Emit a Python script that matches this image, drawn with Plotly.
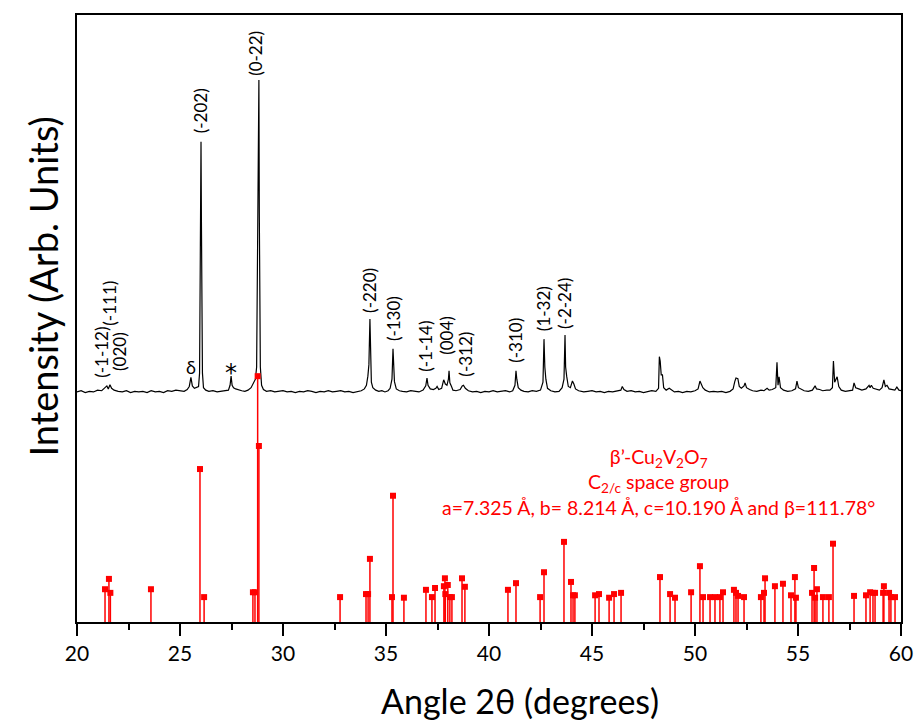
import plotly.graph_objects as go

# ---------------- data ----------------
# Experimental XRD pattern (2theta, intensity in arbitrary units, offset upward)
EXP_X = [20.0, 20.2, 20.4, 20.6, 20.8, 21.0, 21.2, 21.35, 21.45, 21.52, 21.6, 21.68, 21.8, 22.0, 22.2,
         22.4, 22.6, 22.8, 23.0, 23.2, 23.4, 23.6, 23.8, 24.0, 24.2, 24.4, 24.6, 24.8, 25.0, 25.2,
         25.35, 25.45, 25.53, 25.6, 25.7, 25.8, 25.90, 25.95, 25.98, 26.0, 26.02, 26.04, 26.06, 26.09,
         26.14, 26.25, 26.4, 26.6, 26.8, 27.0, 27.2, 27.35, 27.43, 27.48, 27.53, 27.6, 27.7, 27.85,
         28.0, 28.15, 28.3, 28.45, 28.58, 28.66, 28.72, 28.77, 28.80, 28.83, 28.85, 28.87, 28.90,
         28.96, 29.05, 29.2, 29.4, 29.6, 29.8, 30.0, 30.2, 30.4, 30.6, 30.8, 31.0, 31.2, 31.4, 31.6,
         31.8, 32.0, 32.2, 32.4, 32.6, 32.8, 33.0, 33.2, 33.4, 33.6, 33.8, 33.95, 34.05, 34.12, 34.17,
         34.22, 34.25, 34.29, 34.36, 34.5, 34.65, 34.8, 34.95, 35.1, 35.2, 35.29, 35.34, 35.37, 35.41,
         35.5, 35.65, 35.8, 36.0, 36.2, 36.4, 36.6, 36.8, 36.93, 36.99, 37.04, 37.15, 37.3, 37.42,
         37.48, 37.56, 37.7, 37.8, 37.88, 37.96, 38.03, 38.06, 38.1, 38.18, 38.25, 38.4, 38.6, 38.7,
         38.76, 38.85, 39.0, 39.2, 39.4, 39.6, 39.8, 40.0, 40.2, 40.4, 40.6, 40.8, 41.0, 41.15, 41.26,
         41.31, 41.35, 41.42, 41.55, 41.7, 41.9, 42.1, 42.3, 42.5, 42.62, 42.67, 42.71, 42.76, 42.84,
         43.0, 43.2, 43.4, 43.55, 43.64, 43.69, 43.72, 43.77, 43.85, 43.95, 44.05, 44.12, 44.2, 44.35,
         44.6, 44.8, 45.0, 45.2, 45.4, 45.6, 45.8, 46.0, 46.2, 46.4, 46.47, 46.55, 46.7, 46.9, 47.1,
         47.3, 47.5, 47.7, 47.9, 48.1, 48.23, 48.27, 48.31, 48.36, 48.42, 48.48, 48.6, 48.75, 48.85,
         49.0, 49.2, 49.4, 49.6, 49.8, 50.0, 50.15, 50.24, 50.3, 50.38, 50.5, 50.7, 50.9, 51.1, 51.3,
         51.5, 51.7, 51.85, 51.93, 51.99, 52.08, 52.15, 52.25, 52.38, 52.43, 52.5, 52.65, 52.8, 53.0,
         53.2, 53.35, 53.5, 53.6, 53.75, 53.92, 53.98, 54.03, 54.08, 54.15, 54.3, 54.5, 54.7, 54.88,
         54.95, 55.02, 55.15, 55.3, 55.5, 55.7, 55.83, 55.9, 56.05, 56.2, 56.4, 56.55, 56.67, 56.72,
         56.78, 56.9, 56.98, 57.1, 57.3, 57.5, 57.65, 57.72, 57.8, 57.95, 58.1, 58.3, 58.45, 58.5,
         58.56, 58.65, 58.8, 58.95, 59.08, 59.17, 59.24, 59.32, 59.42, 59.55, 59.7, 59.8, 59.9, 60.0]
EXP_Y = [37.9, 38.1, 37.8, 38.0, 37.9, 38.2, 38.1, 38.6, 38.9, 38.4, 39.1, 38.5, 38.2, 38.0, 37.9,
         38.1, 37.8, 38.0, 37.9, 38.0, 37.8, 38.1, 37.9, 38.0, 37.8, 38.1, 38.0, 38.2, 38.1, 38.0,
         38.3, 38.8, 40.3, 38.9, 38.5, 38.7, 38.8, 41.0, 55.0, 66.0, 79.1, 66.0, 55.0, 41.0,
         38.6, 38.2, 38.0, 38.1, 37.9, 38.0, 38.1, 38.2, 39.0, 40.5, 39.0, 38.6, 38.4, 38.2,
         38.1, 38.0, 38.2, 38.6, 39.6, 40.0, 42.0, 59.1, 67.4, 89.3, 67.4, 59.1, 42.0,
         39.0, 38.3, 38.0, 38.1, 37.9, 38.0, 38.1, 37.9, 38.0, 37.8, 38.0, 37.9, 38.1, 38.0, 37.8,
         38.0, 37.9, 38.1, 37.9, 38.0, 38.1, 37.9, 38.0, 37.8, 38.0, 38.1, 38.4, 39.0, 40.5, 42.4,
         49.9, 42.4, 39.5, 38.6, 38.2, 38.0, 38.1, 37.9, 38.1, 38.5, 40.0, 45.0, 42.0, 39.6,
         38.4, 38.1, 38.0, 37.9, 38.1, 38.0, 37.9, 38.2, 38.9, 40.2, 39.0, 38.4, 38.3, 38.5,
         38.8, 38.3, 38.5, 39.9, 39.2, 39.0, 40.0, 41.4, 39.4, 38.8, 38.2, 38.1, 38.3, 38.9,
         39.0, 38.5, 38.1, 37.9, 38.0, 37.8, 38.0, 37.9, 38.1, 37.9, 38.0, 38.1, 37.9, 38.1, 39.0,
         41.4, 40.0, 38.6, 38.2, 38.0, 37.9, 38.1, 38.0, 38.2, 39.5, 46.6, 42.0, 40.0, 38.5,
         38.1, 37.9, 38.0, 38.6, 40.0, 47.3, 42.0, 40.5, 38.8, 38.6, 39.7, 39.2, 38.4, 38.1,
         37.9, 38.0, 38.1, 37.9, 38.0, 37.8, 38.0, 37.9, 38.1, 38.2, 38.8, 38.3, 38.0, 38.1, 37.9,
         38.0, 37.8, 38.0, 38.1, 38.0, 38.5, 43.7, 43.0, 40.7, 40.7, 38.6, 38.2, 38.5, 38.2,
         37.9, 38.0, 37.8, 38.0, 37.9, 38.1, 38.4, 39.7, 39.1, 38.6, 38.2, 37.9, 38.0, 37.9, 38.0,
         37.8, 38.0, 38.4, 39.6, 40.2, 40.1, 38.8, 38.5, 38.9, 39.4, 38.6, 38.3, 38.1, 38.0,
         38.2, 38.1, 38.5, 38.2, 38.3, 38.6, 42.8, 39.0, 40.4, 38.6, 38.2, 38.0, 38.1, 38.4,
         39.7, 38.6, 38.3, 38.1, 38.0, 38.2, 38.9, 38.4, 38.3, 38.1, 38.2, 38.2, 38.6, 43.0,
         39.5, 40.4, 38.8, 38.2, 38.0, 38.1, 38.2, 39.4, 38.6, 38.4, 38.2, 38.4, 39.0, 38.6,
         39.0, 38.5, 38.3, 38.2, 38.6, 39.9, 38.8, 39.0, 38.4, 38.3, 38.2, 38.7, 38.2, 38.1]

# Reference pattern for beta'-Cu2V2O7 (stick positions and relative heights)
REF_X = [21.36, 21.55, 21.62, 23.59, 25.97, 26.17, 28.54, 28.64, 28.77, 28.83, 32.77, 34.03, 34.13,
         34.22, 35.29, 35.34, 35.87, 36.94, 37.23, 37.38, 37.81, 37.86, 37.88, 38.00, 38.10, 38.20,
         38.69, 38.83, 40.92, 41.31, 42.48, 42.67, 43.64, 43.98, 44.08, 44.17, 45.15, 45.34, 45.83,
         46.07, 46.41, 48.30, 48.79, 49.03, 49.81, 50.24, 50.39, 50.73, 50.97, 51.21, 51.36, 51.89,
         51.99, 52.09, 52.38, 53.20, 53.35, 53.40, 53.88, 54.27, 54.66, 54.85, 54.90, 55.68, 55.78,
         55.83, 55.92, 56.21, 56.50, 56.70, 57.72, 58.30, 58.50, 58.64, 58.74, 59.13, 59.17, 59.42,
         59.51, 59.71]
REF_Y = [5.4, 7.1, 4.8, 5.4, 25.2, 4.1, 4.9, 4.9, 40.5, 29.0, 4.1, 4.6, 4.6,
         10.4, 4.1, 20.8, 4.0, 5.3, 4.1, 5.6, 5.9, 7.2, 4.6, 6.1, 4.1, 4.1,
         7.2, 5.8, 5.3, 6.4, 4.1, 8.2, 13.2, 6.6, 4.4, 4.4, 4.4, 4.6, 4.0,
         4.6, 4.8, 7.4, 4.6, 4.0, 4.9, 9.2, 4.1, 4.1, 4.1, 4.1, 4.9, 5.3,
         4.8, 4.3, 4.1, 4.1, 4.8, 7.2, 5.9, 6.3, 4.4, 7.4, 4.0, 4.8, 8.9,
         4.0, 5.4, 4.1, 4.1, 12.9, 4.3, 4.4, 4.9, 4.8, 4.8, 4.8, 5.9, 4.8,
         4.1, 4.1]

# Peak index labels (text, label x, label y)
PEAK_LABELS = ["(-1-12)", "(-111)", "(020)", "(-202)", "(0-22)", "(-220)", "(-130)", "(-1-14)",
               "(004)", "(-312)", "(-310)", "(1-32)", "(-2-24)"]
PEAK_LABEL_X = [21.21, 21.60, 22.09, 25.97, 28.69, 34.22, 35.34, 36.94, 37.96, 38.88, 41.31, 42.62, 43.69]
PEAK_LABEL_Y = [44.5, 52.6, 44.5, 84.3, 93.6, 54.7, 49.9, 45.5, 47.3, 44.2, 46.5, 51.7, 52.4]

X_TICKS = [20, 25, 30, 35, 40, 45, 50, 55, 60]
X_TICK_TEXT = ["20", "25", "30", "35", "40", "45", "50", "55", "60"]

FONT = "Lato, Carlito, Calibri, sans-serif"
RED = "#ff0000"

# ---------------- figure ----------------
fig = go.Figure()

fig.add_trace(go.Scatter(x=EXP_X, y=EXP_Y, mode="lines",
                         line=dict(color="black", width=1.2), showlegend=False,
                         hoverinfo="skip"))

stick_x, stick_y = [], []
for xv, yv in zip(REF_X, REF_Y):
    stick_x += [xv, xv, None]
    stick_y += [0, yv, None]
fig.add_trace(go.Scatter(x=stick_x, y=stick_y, mode="lines",
                         line=dict(color=RED, width=1.5), showlegend=False,
                         hoverinfo="skip"))
fig.add_trace(go.Scatter(x=REF_X, y=REF_Y, mode="markers",
                         marker=dict(color=RED, symbol="square", size=6, line=dict(width=0)),
                         showlegend=False))

annotations = []
for t, xv, yv in zip(PEAK_LABELS, PEAK_LABEL_X, PEAK_LABEL_Y):
    annotations.append(dict(x=xv, y=yv, xref="x", yref="y", text=t, textangle=-90,
                            showarrow=False, font=dict(family=FONT, size=17, color="black")))
annotations.append(dict(x=25.53, y=42.0, xref="x", yref="y", text="δ", showarrow=False,
                        font=dict(family=FONT, size=18, color="black")))
annotations.append(dict(x=27.48, y=41.0, xref="x", yref="y", text="*", showarrow=False,
                        font=dict(family="DejaVu Sans", size=24, color="black")))

annotations.append(dict(
    x=48.25, y=23.1, xref="x", yref="y", showarrow=False, align="center",
    text="β’-Cu<sub>2</sub>V<sub>2</sub>O<sub>7</sub><br>"
         "C<sub>2/c</sub> space group<br>"
         "a=7.325 Å, b= 8.214 Å, c=10.190 Å and β=111.78°",
    font=dict(family=FONT, size=19.5, color=RED)))

# axis titles as annotations for exact placement
annotations.append(dict(x=0.538, y=-0.130, xref="paper", yref="paper", yanchor="middle",
                        text="Angle 2θ (degrees)", showarrow=False,
                        font=dict(family=FONT, size=34, color="black")))
annotations.append(dict(x=-0.072, y=0.552, xref="paper", yref="paper", textangle=-90,
                        text="Intensity (Arb. Units)", showarrow=False,
                        font=dict(family=FONT, size=38, color="black")))

fig.update_layout(
    width=916, height=720,
    margin=dict(l=77, r=15, t=15, b=98),
    paper_bgcolor="white", plot_bgcolor="white",
    font=dict(family=FONT, color="black"),
    annotations=annotations,
    showlegend=False,
    hovermode=False,
)
fig.update_xaxes(range=[20, 60], tickvals=X_TICKS, ticktext=X_TICK_TEXT,
                 showline=True, mirror=True, linecolor="black", linewidth=2,
                 ticks="outside", ticklen=12, tickwidth=2, tickcolor="black",
                 minor=dict(dtick=2.5, tick0=20, ticks="outside", ticklen=6, tickwidth=2,
                            tickcolor="black"),
                 tickfont=dict(family=FONT, size=21, color="black"),
                 showgrid=False, zeroline=False, automargin=False)
fig.update_yaxes(range=[0, 100], showticklabels=False, ticks="",
                 showline=True, mirror=True, linecolor="black", linewidth=2,
                 showgrid=False, zeroline=False, automargin=False)

# remove the browser's default 8 px body margin so the figure fills the window exactly
fig.write_html("out.html",
               config={"displayModeBar": False},
               post_script="document.body.style.margin='0';document.body.style.overflow='hidden';")
